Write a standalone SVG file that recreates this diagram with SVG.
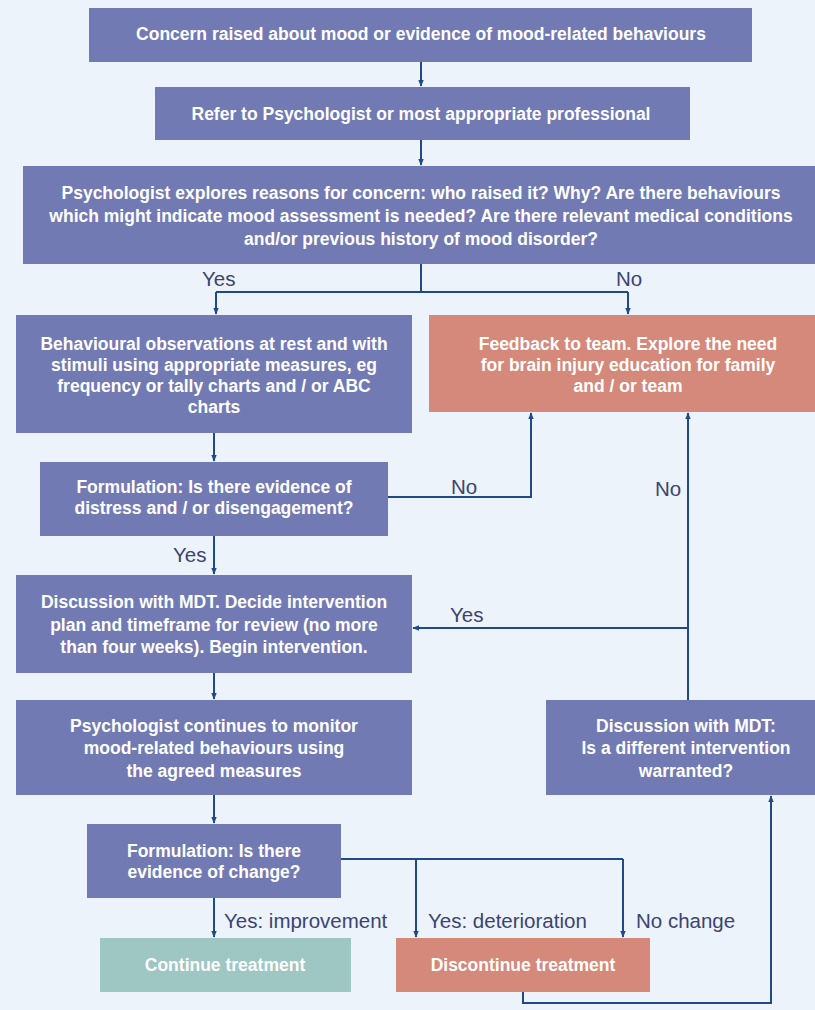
<svg xmlns="http://www.w3.org/2000/svg" width="815" height="1010" viewBox="0 0 815 1010">
<defs>
<style>
.bg{fill:#EDF3FB}
.b{fill:#727AB4}
.o{fill:#D4897A}
.t{fill:#9EC6C2}
.tx{font-family:"Liberation Sans",Arial,sans-serif;font-size:17.5px;font-weight:bold;fill:#ffffff;text-anchor:middle}
.lb{font-family:"Liberation Sans",Arial,sans-serif;font-size:20.5px;fill:#3B4470}
.c{fill:none;stroke:#1F4A8A;stroke-width:2}
</style>
<marker id="ah" viewBox="0 0 10 10" refX="9" refY="5" markerWidth="7" markerHeight="7" orient="auto" markerUnits="userSpaceOnUse"><path d="M0,1 L10,5 L0,9 z" fill="#1F4A8A"/></marker>
</defs>
<rect class="bg" x="0" y="0" width="815" height="1010"/>
<g id="connectors">
<path class="c" d="M421,62 V86" marker-end="url(#ah)"/>
<path class="c" d="M421,140 V165" marker-end="url(#ah)"/>
<path class="c" d="M421,264 V292 M216,292 H628"/>
<path class="c" d="M216,292 V314" marker-end="url(#ah)"/>
<path class="c" d="M628,292 V314" marker-end="url(#ah)"/>
<path class="c" d="M214,433 V461" marker-end="url(#ah)"/>
<path class="c" d="M388,497 H531 V413" marker-end="url(#ah)"/>
<path class="c" d="M214,536 V574" marker-end="url(#ah)"/>
<path class="c" d="M688,700 V413" marker-end="url(#ah)"/>
<path class="c" d="M688,628 H413" marker-end="url(#ah)"/>
<path class="c" d="M214,673 V699" marker-end="url(#ah)"/>
<path class="c" d="M214,795 V823" marker-end="url(#ah)"/>
<path class="c" d="M214,898 V937" marker-end="url(#ah)"/>
<path class="c" d="M341,859 H623"/>
<path class="c" d="M416,859 V937" marker-end="url(#ah)"/>
<path class="c" d="M623,859 V937" marker-end="url(#ah)"/>
<path class="c" d="M523,992 V1003 H771 V796" marker-end="url(#ah)"/>
<text class="lb" x="202" y="286">Yes</text>
<text class="lb" x="616" y="286">No</text>
<text class="lb" x="451" y="494">No</text>
<text class="lb" x="655" y="496">No</text>
<text class="lb" x="173" y="562">Yes</text>
<text class="lb" x="450" y="622">Yes</text>
<text class="lb" x="224" y="928">Yes: improvement</text>
<text class="lb" x="428" y="928">Yes: deterioration</text>
<text class="lb" x="636" y="928">No change</text>
</g>
<g id="n1"><rect class="b" x="89" y="8" width="663" height="54"/>
<text class="tx" x="421" y="40">Concern raised about mood or evidence of mood-related behaviours</text></g>
<g id="n2"><rect class="b" x="155" y="87" width="535" height="53"/>
<text class="tx" x="421" y="120">Refer to Psychologist or most appropriate professional</text></g>
<g id="n3"><rect class="b" x="23" y="166" width="792" height="98"/>
<text class="tx" x="421" y="199">Psychologist explores reasons for concern: who raised it? Why? Are there behaviours</text>
<text class="tx" x="421" y="222">which might indicate mood assessment is needed? Are there relevant medical conditions</text>
<text class="tx" x="421" y="245">and/or previous history of mood disorder?</text></g>
<g id="n4"><rect class="b" x="16" y="315" width="396" height="118"/>
<text class="tx" x="214" y="350">Behavioural observations at rest and with</text>
<text class="tx" x="214" y="371">stimuli using appropriate measures, eg</text>
<text class="tx" x="214" y="392">frequency or tally charts and / or ABC</text>
<text class="tx" x="214" y="413">charts</text></g>
<g id="n5"><rect class="o" x="429" y="315" width="386" height="97"/>
<text class="tx" x="628" y="350">Feedback to team. Explore the need</text>
<text class="tx" x="628" y="371">for brain injury education for family</text>
<text class="tx" x="628" y="392">and / or team</text></g>
<g id="n6"><rect class="b" x="40" y="462" width="348" height="74"/>
<text class="tx" x="214" y="493">Formulation: Is there evidence of</text>
<text class="tx" x="214" y="514">distress and / or disengagement?</text></g>
<g id="n7"><rect class="b" x="16" y="575" width="396" height="98"/>
<text class="tx" x="214" y="608">Discussion with MDT. Decide intervention</text>
<text class="tx" x="214" y="631">plan and timeframe for review (no more</text>
<text class="tx" x="214" y="653">than four weeks). Begin intervention.</text></g>
<g id="n8"><rect class="b" x="16" y="700" width="396" height="95"/>
<text class="tx" x="214" y="732">Psychologist continues to monitor</text>
<text class="tx" x="214" y="754">mood-related behaviours using</text>
<text class="tx" x="214" y="777">the agreed measures</text></g>
<g id="n9"><rect class="b" x="546" y="700" width="269" height="95"/>
<text class="tx" x="686" y="732">Discussion with MDT:</text>
<text class="tx" x="686" y="754">Is a different intervention</text>
<text class="tx" x="686" y="777">warranted?</text></g>
<g id="n10"><rect class="b" x="87" y="824" width="254" height="74"/>
<text class="tx" x="214" y="857">Formulation: Is there</text>
<text class="tx" x="214" y="878">evidence of change?</text></g>
<g id="n11"><rect class="t" x="100" y="938" width="251" height="54"/>
<text class="tx" x="225" y="971">Continue treatment</text></g>
<g id="n12"><rect class="o" x="396" y="938" width="254" height="54"/>
<text class="tx" x="523" y="971">Discontinue treatment</text></g>
</svg>
